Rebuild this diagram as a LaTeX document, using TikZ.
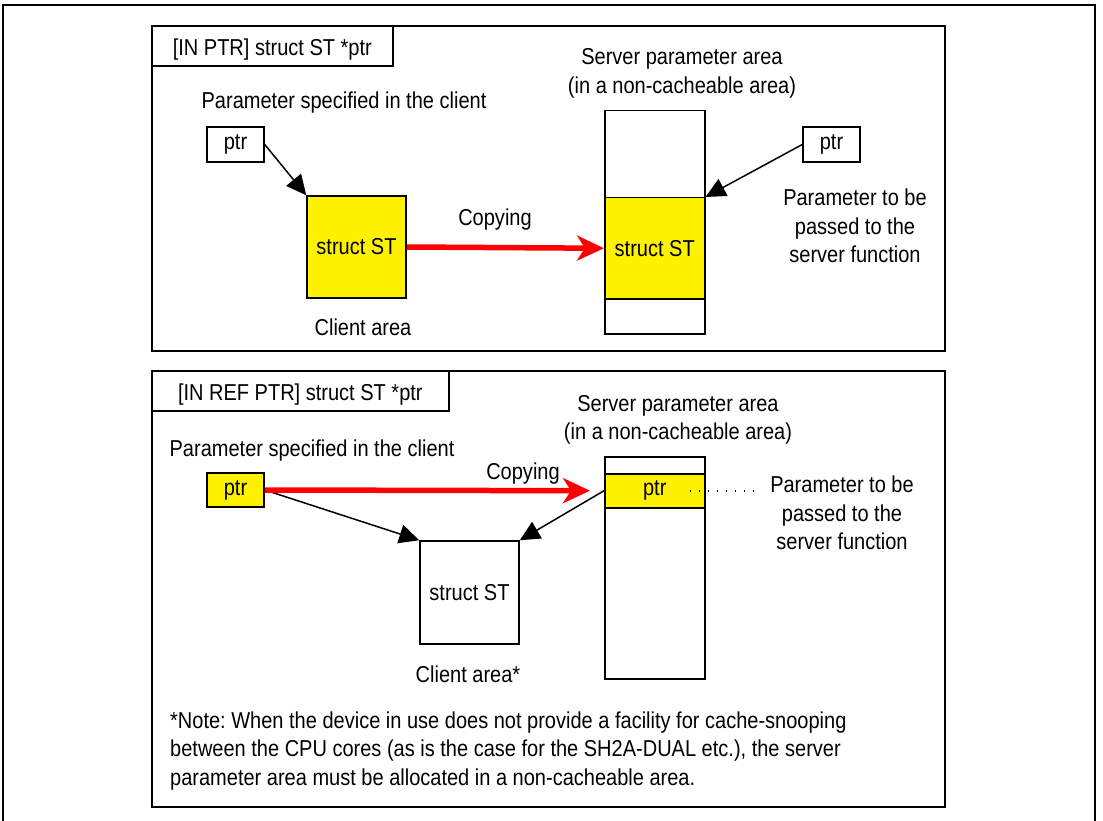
\documentclass[tikz,border=0pt]{standalone}
\usepackage{fontspec}
\setmainfont{Liberation Sans}[FakeStretch=0.87]
\usetikzlibrary{arrows.meta,positioning}
\frenchspacing

\begin{document}
\begin{tikzpicture}[x=1pt,y=-1pt,
  >={Triangle[length=20pt,width=19pt]},
  every node/.style={font=\fontsize{23}{28.5}\selectfont},
  panel/.style={draw,line width=1.6pt,anchor=north west,inner sep=0pt},
  box/.style={draw,line width=1.5pt,inner sep=0pt},
  hl/.style={box,fill=yellow},
  txt/.style={align=center,inner sep=0pt},
  ptrarrow/.style={->,line width=1.5pt},
  copyarrow/.style={-{Stealth[length=27pt,width=25pt,inset=8pt]},red,line width=5.5pt},
  dotline/.style={line width=1.8pt,dash pattern=on 1.6pt off 7.4pt}]
  \useasboundingbox (0,0) rectangle (1103,821);
  \draw[line width=2.8pt] (3,821) -- (3,5) -- (1095,5) -- (1095,821);

  % upper panel: [IN PTR]
  \node[panel,minimum width=793pt,minimum height=325pt] (pan1) at (151,25) {};
  \node[panel,minimum width=241pt,minimum height=40pt] (tab1) at (151,25) {};
  \node[txt] (tab1txt) at ([yshift=-4pt]tab1.center) {[IN PTR] struct ST *ptr};
  \node[txt] (cltxt1) at (344,103) {Parameter specified in the client};
  \node[box,minimum width=57pt,minimum height=35pt] (ptr1) at (235.5,144.5) {ptr};
  \node[hl,minimum width=99pt,minimum height=102pt] (st1) at (356.5,247) {struct ST};
  \node[txt] (clarea1) at (363,327) {Client area};
  \node[txt] (copy1) at (495,220) {Copying};
  \node[txt] (srvtxt1) at (682,73.5) {Server parameter area\\(in a non-cacheable area)};
  \node[box,minimum width=100pt,minimum height=223pt,anchor=north west] (col1) at (604,110) {};
  \node[hl,minimum width=100pt,minimum height=101pt,anchor=north west] (srvst1) at (604,197) {struct ST};
  \node[box,minimum width=57pt,minimum height=35pt] (ptr2) at (831.5,144.5) {ptr};
  \node[txt] (pass1) at (855,226) {Parameter to be\\passed to the\\server function};
  \draw[ptrarrow] (ptr1.east) -- (st1.north west);
  \draw[ptrarrow] (ptr2.west) -- (srvst1.north east);
  \draw[copyarrow] (st1.east) -- (srvst1.west);

  % lower panel: [IN REF PTR]
  \node[panel,minimum width=793pt,minimum height=436pt] (pan2) at (151,370) {};
  \node[panel,minimum width=297pt,minimum height=40pt] (tab2) at (151,370) {};
  \node[txt] (tab2txt) at ([yshift=-4pt]tab2.center) {[IN REF PTR] struct ST *ptr};
  \node[txt] (cltxt2) at (312,451) {Parameter specified in the client};
  \node[hl,minimum width=57pt,minimum height=34pt] (ptr3) at (235.5,490) {ptr};
  \node[txt] (copy2) at (523,474) {Copying};
  \node[txt] (srvtxt2) at (678,420) {Server parameter area\\(in a non-cacheable area)};
  \node[box,minimum width=100pt,minimum height=222pt,anchor=north west] (col2) at (604,456) {};
  \node[hl,minimum width=100pt,minimum height=34pt,anchor=north west] (srvptr) at (604,473) {ptr};
  \node[box,minimum width=99pt,minimum height=103pt] (st2) at (469.5,592.5) {struct ST};
  \node[txt] (clarea2) at (468,674) {Client area*};
  \node[txt] (pass2) at (842,513) {Parameter to be\\passed to the\\server function};
  \node[txt,align=left,anchor=west] (note) at (170,751)
    {*Note: When the device in use does not provide a facility for cache-snooping\\
     between the CPU cores (as is the case for the SH2A-DUAL etc.), the server\\
     parameter area must be allocated in a non-cacheable area.};
  \draw[ptrarrow] (ptr3.east) -- (st2.north west);
  \draw[ptrarrow] (srvptr.west) -- (st2.north east);
  \draw[copyarrow,shorten >=14pt] (ptr3.east) -- (srvptr.west);
  \draw[dotline] ([xshift=-16pt]srvptr.east) -- ([xshift=-15pt]pass2.west |- srvptr.east);
\end{tikzpicture}
\end{document}
